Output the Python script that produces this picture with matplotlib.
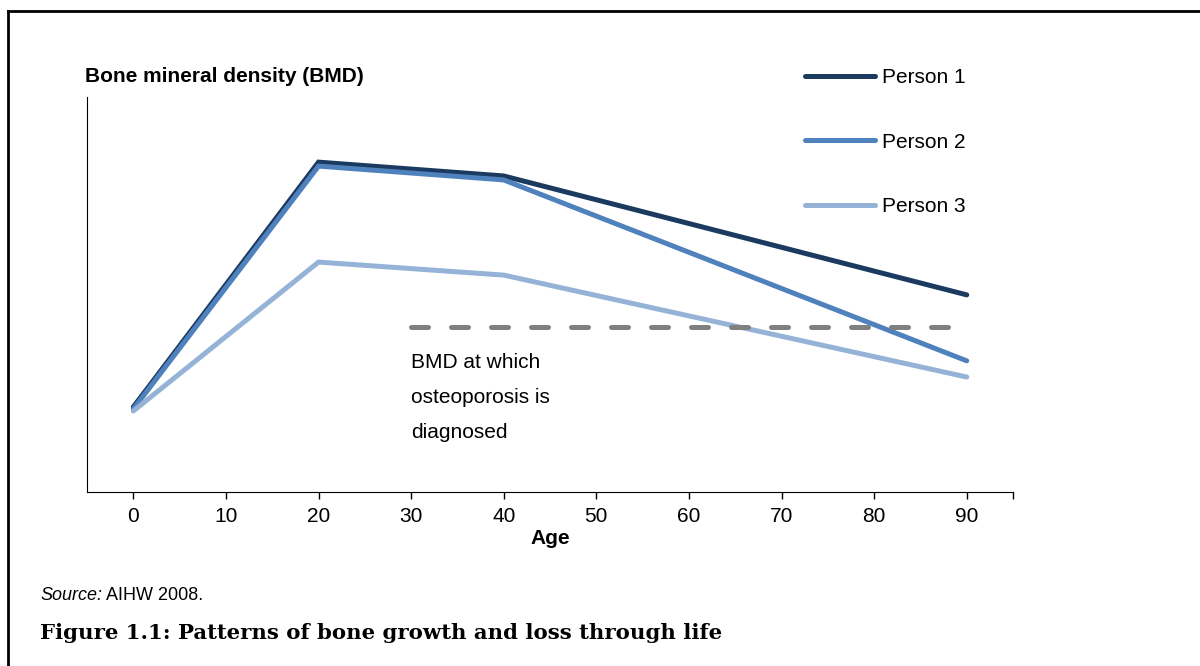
import matplotlib.pyplot as plt
from matplotlib.lines import Line2D

# -----------------------------
# Data
# -----------------------------
ages = [0, 20, 40, 90]
person1 = [2.15, 8.35, 8.0, 4.99]
person2 = [2.1, 8.25, 7.9, 3.32]
person3 = [2.05, 5.82, 5.49, 2.91]
threshold_ages = [30, 90]
threshold_bmd = [4.18, 4.18]
x_ticks = [0, 10, 20, 30, 40, 50, 60, 70, 80, 90]

labels = ["Person 1", "Person 2", "Person 3"]
colors = ["#1B3A60", "#4F81BD", "#95B3D7"]

plt.rcParams["font.family"] = ["Liberation Sans", "DejaVu Sans"]


def main():
    fig = plt.figure(figsize=(12, 6.66), dpi=100)
    ax = fig.add_axes([0.0725, 0.2613, 0.7717, 0.5931])

    lw = 3.6
    for series, lab, col in zip([person1, person2, person3], labels, colors):
        ax.plot(ages, series, color=col, lw=lw, label=lab,
                solid_capstyle="round", solid_joinstyle="miter")

    ax.plot(threshold_ages, threshold_bmd, color="#808080", lw=lw,
            linestyle=(0, (3.4, 4.6)), dash_capstyle="round")

    ax.text(30, 3.53, "BMD at which\nosteoporosis is\ndiagnosed",
            fontsize=15, va="top", ha="left", linespacing=2.07)

    ax.set_xlim(-5, 95)
    ax.set_ylim(0, 10)
    ax.set_xticks(x_ticks)
    ax.set_xticks([95], minor=True)
    ax.set_yticks([])
    ax.tick_params(axis="x", which="both", direction="out", length=5,
                   width=1, labelsize=15, pad=6)
    ax.spines["top"].set_visible(False)
    ax.spines["right"].set_visible(False)
    ax.set_xlabel("Age", fontsize=15, fontweight="bold", labelpad=2)

    fig.text(85 / 1200, 1 - 76 / 666, "Bone mineral density (BMD)",
             fontsize=15, fontweight="bold", va="center", ha="left")

    ax.legend(loc="upper left", bbox_to_anchor=(805 / 1200, 1 - 68 / 666),
              bbox_transform=fig.transFigure, frameon=False, fontsize=15,
              handlelength=3.37, handletextpad=0.34, labelspacing=2.19,
              borderpad=0, borderaxespad=0)

    # source note and figure caption
    src = fig.text(40 / 1200, 1 - 596 / 666, "Source:", fontsize=13,
                   style="italic", va="center", ha="left")
    ax.annotate(" AIHW 2008.", xy=(1, 0.5), xycoords=src, fontsize=13,
                va="center", ha="left", annotation_clip=False)
    fig.text(40 / 1200, 1 - 633 / 666,
             "Figure 1.1: Patterns of bone growth and loss through life",
             fontsize=15.3, fontweight="bold", family="DejaVu Serif",
             va="center", ha="left")

    # page border (top and left only)
    fig.add_artist(Line2D([8 / 1200, 1], [1 - 11 / 666, 1 - 11 / 666],
                          transform=fig.transFigure, color="black", lw=2))
    fig.add_artist(Line2D([8 / 1200, 8 / 1200], [0, 1 - 11 / 666],
                          transform=fig.transFigure, color="black", lw=2))

    fig.savefig("out.png", dpi=100)
    plt.close(fig)


if __name__ == "__main__":
    main()
